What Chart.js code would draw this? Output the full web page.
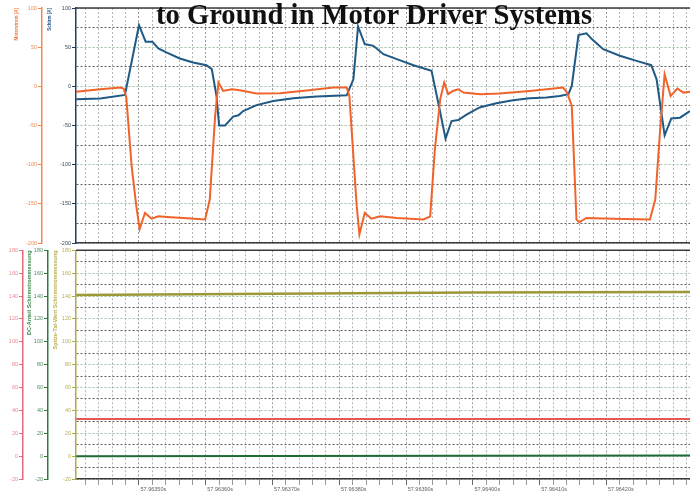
<!DOCTYPE html>
<html>
<head>
<meta charset="utf-8">
<script src="https://cdn.jsdelivr.net/npm/chart.js@4/dist/chart.umd.min.js"></script>
<style>
  html, body { margin: 0; padding: 0; background: #fff; }
  #wrap { position: relative; width: 690px; height: 494px; overflow: hidden; }
  #topChart { position: absolute; left: 0; top: 0; }
  #botChart { position: absolute; left: 0; top: 246px; }
  #title {
    position: absolute; left: 0; top: -1px; width: 748px;
    text-align: center; white-space: nowrap; line-height: 1;
    font: bold 28.6px "Liberation Serif", "Times New Roman", serif; color: #111;
  }
</style>
</head>
<body>
<div id="wrap">
  <canvas id="topChart" width="690" height="248"></canvas>
  <canvas id="botChart" width="690" height="248"></canvas>
  <div id="title">to Ground in Motor Driver Systems</div>
</div>
<script>
// time in microseconds after 57.96300 s
const X_MIN = 405.7;
const X_MAX = 1325;
const labelTimes = [500, 600, 700, 800, 900, 1000, 1100, 1200];
const timeLabels = ['57.96350s', '57.96360s', '57.96370s', '57.96380s',
                    '57.96390s', '57.96400s', '57.96410s', '57.96420s'];
const gridTimes = [420, 440, 460, 480, 500, 520, 540, 560, 580, 600, 620, 640, 660, 680, 700,
  720, 740, 760, 780, 800, 820, 840, 860, 880, 900, 920, 940, 960, 980, 1000, 1020, 1040,
  1060, 1080, 1100, 1120, 1140, 1160, 1180, 1200, 1220, 1240, 1260, 1280, 1300, 1320];

// top panel: motor current (orange) and shield current (blue), [A]
const orangeT = [406, 442, 472, 477, 481, 489, 496, 501, 509, 519, 529, 542, 566, 599, 606, 614,
  619, 626, 639, 651, 676, 711, 751, 791, 811, 815, 826, 830, 838, 848, 861, 886, 926, 936,
  943, 951, 957, 963, 970, 978, 986, 1011, 1040, 1085, 1135, 1141, 1148, 1155, 1159, 1170,
  1210, 1265, 1273, 1280, 1287, 1296, 1306, 1315, 1325];
const orangeV = [-7, -3.7, -1.5, -2.8, -14, -102, -153, -182, -161.6, -169, -166, -166.7, -168,
  -170, -144.6, -38, 4.9, -5.9, -3.7, -5, -9.2, -8.8, -5.4, -1.5, -1.5, -12.3, -153, -189,
  -161.6, -169, -166, -168, -170, -166, -80.5, -16.5, 4.9, -10, -5.9, -3.7, -8, -10, -9.2,
  -5.9, -1.5, -8, -25, -170, -173.6, -168, -169, -170, -144.6, -59, 15.5, -12.3, -2.8, -8, -7];

const blueT = [406, 442, 479, 500, 510, 520, 529, 541, 561, 581, 601, 609, 616, 620, 629, 641,
  649, 656, 676, 701, 731, 766, 811, 821, 828, 838, 851, 866, 886, 911, 938, 948, 959, 968,
  978, 991, 1010, 1035, 1060, 1085, 1110, 1130, 1143, 1148, 1158, 1170, 1178, 1195, 1220,
  1245, 1267, 1275, 1287, 1297, 1310, 1325];
const blueV = [-16.5, -15.6, -11, 78, 57, 57, 48.4, 43.3, 35.6, 30.5, 27, 22, -12, -50, -50,
  -38.7, -37, -31.5, -24, -18.7, -15.2, -13, -11.4, 9, 76.5, 54, 51.7, 41, 34.7, 27, 19.7,
  -20.7, -66.8, -44.3, -43, -35.7, -27, -21.6, -17.8, -15.2, -14.3, -12.3, -10, 0.5, 65.4,
  67.6, 60.3, 47.5, 39, 32.5, 27, 9, -62.6, -41, -40, -31.5];

const topLabels = [100, 50, 0, -50, -100, -150, -200];

// bottom panel
const botT = [406, 700, 1000, 1325];
const oliveV = [141, 142, 143, 143.5];
const redV = [32.5, 32.5, 32.5, 32.5];
const greenV = [0, 0.2, 0.4, 0.5];
const botLabels = [180, 160, 140, 120, 100, 80, 60, 40, 20, 0, -20];

const pts = (ts, vs) => ts.map((t, i) => ({ x: t, y: vs[i] }));
const TICK_FONT = { family: 'Liberation Sans, Arial, sans-serif', size: 5.5 };

const framePlugin = {
  id: 'frame',
  beforeDatasetsDraw(chart) {
    const { ctx, chartArea: a } = chart;
    ctx.save();
    ctx.strokeStyle = '#3a3a3a';
    ctx.lineWidth = 1.5;
    ctx.beginPath();
    ctx.moveTo(a.left, a.top);
    ctx.lineTo(a.right, a.top);
    ctx.stroke();
    ctx.restore();
  }
};

function xAxis(showLabels) {
  return {
    type: 'linear', min: X_MIN, max: X_MAX,
    afterBuildTicks: s => { s.ticks = gridTimes.map(v => ({ value: v })); },
    afterFit: s => { s.height = showLabels ? 15 : 0; },
    grid: {
      color: c => (c.tick && labelTimes.includes(c.tick.value)) ? '#9a9a9a' : '#b4b4b4',
      drawTicks: showLabels,
      tickLength: 6,
      tickColor: c => (c.tick && labelTimes.includes(c.tick.value)) ? '#666' : '#999'
    },
    border: { color: '#3a3a3a', width: 1.5, dash: [2, 2] },
    ticks: {
      display: showLabels, autoSkip: false, maxRotation: 0, minRotation: 0,
      align: 'start', padding: 1, font: TICK_FONT, color: '#5f5f5f',
      callback: v => { const i = labelTimes.indexOf(v); return i >= 0 ? ' ' + timeLabels[i] : ''; }
    }
  };
}

function sideAxis(opts) {
  return {
    position: 'left', weight: opts.weight, min: opts.min, max: opts.max,
    afterFit: s => { s.width = opts.width; },
    ticks: {
      stepSize: opts.step, autoSkip: false, font: TICK_FONT, color: opts.labelColor, padding: 1,
      callback: v => opts.labels.includes(v) ? String(v) : ''
    },
    grid: opts.inner ? {
      color: c => (c.tick && opts.labels.includes(c.tick.value)) ? '#9fbf9f' : '#5e5e5e',
      tickLength: 4,
      tickColor: c => (c.tick && opts.labels.includes(c.tick.value)) ? opts.axisColor : 'rgba(0,0,0,0)'
    } : {
      drawOnChartArea: false, tickLength: 4,
      tickColor: c => (c.tick && opts.labels.includes(c.tick.value)) ? opts.axisColor : 'rgba(0,0,0,0)'
    },
    border: { color: opts.axisColor, width: 1.5, dash: [2, 2] },
    title: {
      display: !!opts.title, text: opts.title || '', color: opts.titleColor,
      font: { family: 'Liberation Sans, Arial, sans-serif', size: opts.titleSize || 5, weight: 'bold' },
      align: 'end', padding: { top: opts.titlePad || 0, bottom: 0 }
    }
  };
}

const common = {
  responsive: false, animation: false, devicePixelRatio: 1,
  plugins: { legend: { display: false }, tooltip: { enabled: false } },
  elements: { point: { radius: 0 }, line: { tension: 0, borderWidth: 2 } }
};

new Chart(document.getElementById('topChart'), {
  type: 'line',
  data: {
    datasets: [
      { data: pts(orangeT, orangeV), borderColor: '#f0642c', yAxisID: 'yo' },
      { data: pts(blueT, blueV), borderColor: '#1f5a86', yAxisID: 'y' }
    ]
  },
  options: Object.assign({}, common, {
    layout: { padding: { top: 8, bottom: 5, left: 0, right: 0 } },
    scales: {
      x: xAxis(false),
      y: sideAxis({ weight: 0, min: -200, max: 100, width: 34, step: 25, inner: true,
        labels: topLabels, labelColor: '#3f4a56', axisColor: '#1f3f6a',
        title: 'Schirm [A]', titleColor: '#2a5a8a', titlePad: 5, titleSize: 4.5 }),
      yo: sideAxis({ weight: 10, min: -200, max: 100, width: 42, step: 50,
        labels: topLabels, labelColor: '#f08a50', axisColor: '#f08a52',
        title: 'Motorstrom [A]', titleColor: '#f07a40', titlePad: 14, titleSize: 4.5 })
    }
  }),
  plugins: [framePlugin]
});

new Chart(document.getElementById('botChart'), {
  type: 'line',
  data: {
    datasets: [
      { data: pts(botT, greenV), borderColor: '#1e6b36', yAxisID: 'yg' },
      { data: pts(botT, redV), borderColor: '#e35a52', yAxisID: 'yr' },
      { data: pts(botT, oliveV), borderColor: '#9c9836', yAxisID: 'y', borderWidth: 2.5 }
    ]
  },
  options: Object.assign({}, common, {
    layout: { padding: { top: 4, bottom: 0, left: 0, right: 0 } },
    scales: {
      x: xAxis(true),
      y: sideAxis({ weight: 0, min: -20, max: 180, width: 28, step: 10, inner: true,
        labels: botLabels, labelColor: '#b8b058', axisColor: '#b2aa44',
        title: 'Spitze-Tal-Wert Schirmstrommessung', titleColor: '#b8b050', titlePad: 4, titleSize: 5.5 }),
      yg: sideAxis({ weight: 10, min: -20, max: 180, width: 25, step: 20,
        labels: botLabels, labelColor: '#4f8a5e', axisColor: '#2b7a3e',
        title: 'DC-Anteil Schirmstrommessung', titleColor: '#3c8a4e', titlePad: 3, titleSize: 5.5 }),
      yr: sideAxis({ weight: 20, min: -20, max: 180, width: 23, step: 20,
        labels: botLabels, labelColor: '#e88894', axisColor: '#e06a78' })
    }
  }),
  plugins: [framePlugin]
});
</script>
</body>
</html>
